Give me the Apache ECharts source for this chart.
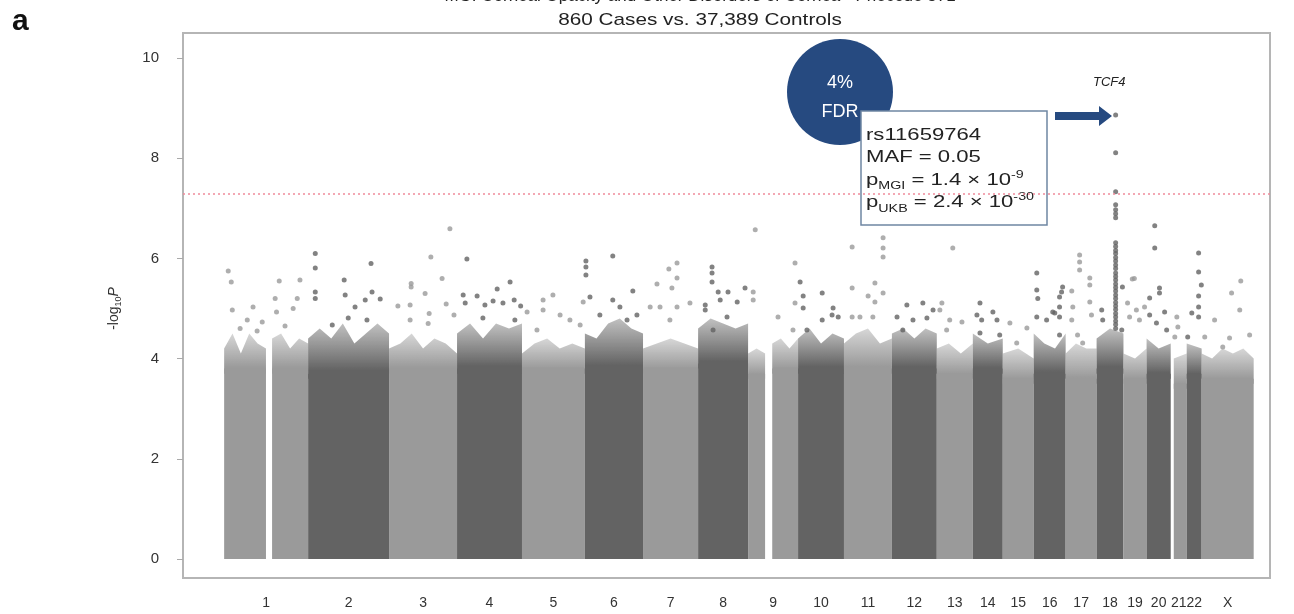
<!DOCTYPE html>
<html>
<head>
<meta charset="utf-8">
<script src="https://cdn.jsdelivr.net/npm/echarts@6/dist/echarts.min.js"></script>
<style>
  html, body { margin: 0; padding: 0; background: #fff; }
  #chart { width: 1294px; height: 614px; }
</style>
</head>
<body>
<div id="chart"></div>
<script>
var chrNames = ['1', '2', '3', '4', '5', '6', '7', '8', '9', '10', '11', '12',
  '13', '14', '15', '16', '17', '18', '19', '20', '21', '22', 'X'];
// plotted span of each chromosome (Mb)
var chrLen = [247, 238, 200, 191, 185, 171, 162, 147, 147, 135, 141, 132,
  106, 88, 91, 94, 91, 79, 68, 71, 47, 44, 153];

// dense SNP band: [chromosome, from Mb, to Mb, solid up to, top of the fuzzy edge along it]
var bands = [
  [1, 0, 123, 3.8, [4.2, 4.5, 4.1, 4.5, 4.3, 4.2]],
  [1, 141, 247, 3.8, [4.4, 4.5, 4.2, 4.4, 4.3]],
  [2, 0, 238, 3.7, [4.4, 4.6, 4.4, 4.7, 4.3, 4.5, 4.7, 4.5]],
  [3, 0, 200, 3.8, [4.2, 4.3, 4.5, 4.2, 4.4, 4.3, 4.1]],
  [4, 0, 191, 3.8, [4.5, 4.7, 4.4, 4.7, 4.6, 4.7]],
  [5, 0, 185, 3.8, [4.1, 4.3, 4.4, 4.2, 4.3, 4.2]],
  [6, 0, 171, 3.8, [4.5, 4.4, 4.7, 4.8, 4.6, 4.5]],
  [7, 0, 162, 3.8, [4.2, 4.3, 4.4, 4.3, 4.2]],
  [8, 0, 147, 3.9, [4.6, 4.8, 4.7, 4.6, 4.7]],
  [9, 0, 50, 3.7, [4.1, 4.2, 4.1]],
  [9, 71, 147, 3.8, [4.3, 4.4, 4.2, 4.4]],
  [10, 0, 135, 3.8, [4.4, 4.6, 4.3, 4.5, 4.4]],
  [11, 0, 141, 3.8, [4.3, 4.5, 4.6, 4.3, 4.4]],
  [12, 0, 132, 3.8, [4.5, 4.6, 4.4, 4.6, 4.5]],
  [13, 0, 106, 3.7, [4.2, 4.3, 4.1, 4.3]],
  [14, 0, 88, 3.8, [4.5, 4.3, 4.4]],
  [15, 0, 91, 3.6, [4.1, 4.2, 4.0]],
  [16, 0, 94, 3.7, [4.5, 4.3, 4.2, 4.5]],
  [17, 0, 91, 3.6, [4.1, 4.3, 4.2, 4.2]],
  [18, 0, 79, 3.8, [4.4, 4.6, 4.5]],
  [19, 0, 68, 3.6, [4.1, 4.0, 4.2]],
  [20, 0, 71, 3.7, [4.4, 4.2, 4.3]],
  [21, 9, 47, 3.5, [4.0, 4.1]],
  [22, 0, 44, 3.7, [4.3, 4.2]],
  [23, 0, 153, 3.6, [4.1, 4.0, 4.2, 4.1, 4.2, 4.0]]
];

// SNPs standing out above the band: [chromosome, Mb, -log10 P]
var hits = [
  [1, 12, 5.75], [1, 21, 5.53], [1, 24, 4.97], [1, 85, 5.03], [1, 68, 4.77], [1, 112, 4.73], [1, 47, 4.6], [1, 97, 4.55],
  [1, 162, 5.55], [1, 223, 5.57], [1, 150, 5.2], [1, 215, 5.2], [1, 203, 5.0], [1, 154, 4.93], [1, 179, 4.65],
  [2, 21, 6.1], [2, 21, 5.81], [2, 21, 5.33], [2, 21, 5.2], [2, 106, 5.57], [2, 185, 5.9], [2, 109, 5.27], [2, 168, 5.17],
  [2, 212, 5.19], [2, 188, 5.33], [2, 138, 5.03], [2, 118, 4.81], [2, 173, 4.77], [2, 71, 4.67],
  [3, 179, 6.59], [3, 123, 6.03], [3, 65, 5.5], [3, 65, 5.43], [3, 156, 5.6], [3, 106, 5.3], [3, 62, 5.07], [3, 118, 4.9],
  [3, 26, 5.05], [3, 168, 5.09], [3, 191, 4.87], [3, 115, 4.7], [3, 62, 4.77],
  [4, 29, 5.99], [4, 18, 5.27], [4, 59, 5.25], [4, 24, 5.11], [4, 156, 5.53], [4, 118, 5.39], [4, 82, 5.07], [4, 168, 5.17],
  [4, 135, 5.11], [4, 106, 5.15], [4, 187, 5.05], [4, 76, 4.81], [4, 170, 4.77],
  [5, 91, 5.27], [5, 62, 5.17], [5, 62, 4.97], [5, 15, 4.93], [5, 112, 4.87], [5, 141, 4.77], [5, 171, 4.67], [5, 44, 4.57], [5, 180, 5.13],
  [6, 82, 6.05], [6, 3, 5.95], [6, 3, 5.83], [6, 3, 5.67], [6, 15, 5.23], [6, 141, 5.35], [6, 82, 5.17], [6, 103, 5.03],
  [6, 153, 4.87], [6, 124, 4.77], [6, 44, 4.87],
  [7, 100, 5.91], [7, 76, 5.79], [7, 100, 5.61], [7, 85, 5.41], [7, 41, 5.49], [7, 138, 5.11], [7, 50, 5.03], [7, 100, 5.03],
  [7, 79, 4.77], [7, 21, 5.03],
  [8, 41, 5.83], [8, 41, 5.71], [8, 41, 5.53], [8, 59, 5.33], [8, 88, 5.33], [8, 115, 5.13], [8, 138, 5.41], [8, 65, 5.17],
  [8, 21, 5.07], [8, 21, 4.97], [8, 85, 4.83], [8, 44, 4.57],
  [9, 21, 6.57], [9, 15, 5.33], [9, 15, 5.17], [9, 138, 5.91], [9, 138, 5.11], [9, 88, 4.83], [9, 132, 4.57],
  [10, 6, 5.53], [10, 15, 5.25], [10, 71, 5.31], [10, 15, 5.01], [10, 103, 5.01], [10, 118, 4.83], [10, 71, 4.77], [10, 26, 4.57], [10, 100, 4.87],
  [11, 24, 6.23], [11, 115, 6.41], [11, 115, 6.21], [11, 115, 6.03], [11, 24, 5.41], [11, 91, 5.51], [11, 71, 5.25], [11, 115, 5.31],
  [11, 91, 5.13], [11, 24, 4.83], [11, 47, 4.83], [11, 85, 4.83],
  [12, 44, 5.07], [12, 91, 5.11], [12, 15, 4.83], [12, 62, 4.77], [12, 103, 4.81], [12, 121, 4.97], [12, 32, 4.57],
  [13, 47, 6.21], [13, 15, 5.11], [13, 9, 4.97], [13, 38, 4.77], [13, 74, 4.73], [13, 29, 4.57],
  [14, 21, 5.11], [14, 12, 4.87], [14, 26, 4.77], [14, 59, 4.93], [14, 71, 4.77], [14, 79, 4.47], [14, 21, 4.51],
  [15, 21, 4.71], [15, 71, 4.61], [15, 41, 4.31],
  [16, 9, 5.71], [16, 9, 5.37], [16, 12, 5.2], [16, 9, 4.83], [16, 85, 5.43], [16, 82, 5.33], [16, 76, 5.23], [16, 76, 5.03],
  [16, 56, 4.93], [16, 76, 4.83], [16, 76, 4.47], [16, 62, 4.91], [16, 38, 4.77],
  [17, 41, 6.07], [17, 41, 5.93], [17, 41, 5.77], [17, 71, 5.61], [17, 71, 5.47], [17, 18, 5.35], [17, 21, 5.03], [17, 71, 5.13],
  [17, 76, 4.87], [17, 18, 4.77], [17, 35, 4.47], [17, 50, 4.31],
  [18, 15, 4.97], [18, 76, 5.43], [18, 18, 4.77], [18, 74, 4.57],
  [19, 26, 5.59], [19, 32, 5.6], [19, 12, 5.11], [19, 38, 4.97], [19, 62, 5.03], [19, 18, 4.83], [19, 47, 4.77],
  [20, 24, 6.65], [20, 24, 6.21], [20, 9, 5.21], [20, 38, 5.41], [20, 38, 5.31], [20, 53, 4.93], [20, 9, 4.87], [20, 29, 4.71], [20, 59, 4.57],
  [21, 18, 4.83], [21, 21, 4.63], [21, 12, 4.43],
  [22, 35, 6.11], [22, 35, 5.73], [22, 35, 5.25], [22, 35, 5.03], [22, 35, 4.83], [22, 43, 5.47], [22, 15, 4.91], [22, 3, 4.43],
  [23, 115, 5.55], [23, 88, 5.31], [23, 112, 4.97], [23, 38, 4.77], [23, 141, 4.47], [23, 82, 4.41], [23, 9, 4.43], [23, 62, 4.23]
];

// TCF4 peak on chromosome 18
var tcf4Chr = 18;
var tcf4Pos = 56;
var tcf4Column = [8.86, 8.11, 7.33, 7.07, 6.97, 6.89, 6.81, 6.31, 6.24, 6.16, 6.1, 6.02, 5.95, 5.87, 5.8, 5.71,
  5.64, 5.57, 5.49, 5.42, 5.35, 5.27, 5.2, 5.12, 5.05, 4.98, 4.9, 4.83, 4.75, 4.68, 4.6];

var gwsLine = 7.3;
var yTicks = [0, 2, 4, 6, 8, 10];

var light = [154, 154, 154];
var dark = [99, 99, 99];
var navy = '#264a80';
var font = 'Liberation Sans, Arial, sans-serif';

// cumulative start of each chromosome
var chrStart = [];
var acc = 0;
for (var i = 0; i < chrLen.length; i++) {
  chrStart.push(acc);
  acc += chrLen[i];
}
var chrMid = chrStart.map(function (s, i) { return s + chrLen[i] / 2; });

function rgba(chr, a) {
  var c = chr % 2 === 1 ? light : dark;
  return 'rgba(' + c[0] + ',' + c[1] + ',' + c[2] + ',' + a + ')';
}

var bandData = bands.map(function (b) {
  var s = chrStart[b[0] - 1];
  return [s + b[1], s + b[2]];
});

var pointData = hits.map(function (h) {
  return [chrStart[h[0] - 1] + h[1], h[2], h[0]];
});
tcf4Column.forEach(function (v) {
  pointData.push([chrStart[tcf4Chr - 1] + tcf4Pos, v, tcf4Chr]);
});

var myChart = echarts.init(document.getElementById('chart'));

var option = {
  animation: false,
  grid: {
    left: 183,
    right: 24,
    top: 58,
    bottom: 55
  },
  xAxis: {
    type: 'value',
    min: -121,
    max: 3076,
    axisLine: { show: false },
    axisTick: { show: false },
    splitLine: { show: false },
    axisLabel: {
      customValues: chrMid,
      margin: 37,
      fontSize: 14,
      color: '#333',
      fontFamily: font,
      formatter: function (val) {
        for (var k = 0; k < chrMid.length; k++) {
          if (Math.abs(chrMid[k] - val) < 0.01) return chrNames[k];
        }
        return '';
      }
    }
  },
  yAxis: {
    type: 'value',
    min: 0,
    max: 10,
    interval: 2,
    name: '{n|-log}{s|10}{i|P}',
    nameLocation: 'middle',
    nameRotate: 90,
    nameGap: 60,
    nameTextStyle: {
      rich: {
        n: { fontSize: 14, color: '#333', fontFamily: font, lineHeight: 18 },
        s: { fontSize: 9, color: '#333', fontFamily: font, verticalAlign: 'bottom', lineHeight: 18 },
        i: { fontSize: 14, color: '#333', fontFamily: font, fontStyle: 'italic', lineHeight: 18 }
      }
    },
    axisLine: { show: false, onZero: false },
    axisTick: { show: true, length: 6, lineStyle: { color: '#aaa' } },
    splitLine: { show: false },
    axisLabel: {
      margin: 24,
      fontSize: 15,
      color: '#333',
      fontFamily: font,
      customValues: yTicks
    }
  },
  series: [
    {
      type: 'custom',
      data: bandData,
      encode: { x: [0, 1] },
      clip: true,
      renderItem: function (params, api) {
        var b = bands[params.dataIndex];
        var s = chrStart[b[0] - 1];
        var x0 = s + b[1];
        var x1 = s + b[2];
        var tops = b[4];
        // fuzzy edge starts a little inside the solid part so no seam shows
        var pts = [api.coord([x0, b[3] - 0.1])];
        for (var k = 0; k < tops.length; k++) {
          pts.push(api.coord([x0 + (x1 - x0) * k / (tops.length - 1), tops[k]]));
        }
        pts.push(api.coord([x1, b[3] - 0.1]));
        var bl = api.coord([x0, 0]);
        var tr = api.coord([x1, b[3]]);
        return {
          type: 'group',
          children: [
            {
              type: 'rect',
              shape: { x: bl[0], y: tr[1], width: tr[0] - bl[0], height: bl[1] - tr[1] },
              style: { fill: rgba(b[0], 1) }
            },
            {
              type: 'polygon',
              shape: { points: pts },
              style: {
                fill: new echarts.graphic.LinearGradient(0, 0, 0, 1, [
                  { offset: 0, color: rgba(b[0], 0.4) },
                  { offset: 0.85, color: rgba(b[0], 1) },
                  { offset: 1, color: rgba(b[0], 1) }
                ])
              }
            }
          ]
        };
      }
    },
    {
      type: 'scatter',
      data: pointData,
      symbolSize: 5,
      itemStyle: {
        color: function (p) { return rgba(p.data[2], 1); }
      },
      markLine: {
        silent: true,
        symbol: 'none',
        label: { show: false },
        lineStyle: { color: '#f08a9a', type: [2, 3], width: 1.5 },
        data: [{ yAxis: gwsLine }]
      }
    }
  ],
  graphic: [
    {
      type: 'rect',
      shape: { x: 183, y: 33, width: 1087, height: 545 },
      style: { fill: null, stroke: '#b5b5b5', lineWidth: 2 },
      silent: true
    },
    {
      type: 'text', x: 12, y: 7,
      style: { text: 'a', font: 'bold 30px ' + font, fill: '#111' }
    },
    {
      type: 'text', x: 700, y: -12,
      style: {
        text: 'MGI Corneal Opacity and Other Disorders of Cornea - Phecode 371',
        font: '17px ' + font, fill: '#222', align: 'center'
      }
    },
    {
      type: 'text', x: 700, y: 12, scaleX: 1.22, originX: 0,
      style: { text: '860 Cases vs. 37,389 Controls', font: '17px ' + font, fill: '#222', align: 'center' }
    },
    {
      type: 'circle',
      shape: { cx: 840, cy: 92, r: 53 },
      style: { fill: navy }
    },
    {
      type: 'text', x: 840, y: 74,
      style: { text: '4%', font: '18px ' + font, fill: '#fff', align: 'center' }
    },
    {
      type: 'text', x: 840, y: 103,
      style: { text: 'FDR', font: '18px ' + font, fill: '#fff', align: 'center' }
    },
    {
      type: 'rect',
      shape: { x: 861, y: 111, width: 186, height: 114 },
      style: { fill: '#fff', stroke: '#6f86a3', lineWidth: 1.5 }
    },
    {
      type: 'text', x: 866, y: 124, scaleX: 1.3,
      style: {
        text: 'rs11659764\nMAF = 0.05\n{p|p}{s|MGI}{p| = 1.4 × 10}{u|-9}\n{p|p}{s|UKB}{p| = 2.4 × 10}{u|-30}',
        font: '17px ' + font,
        fill: '#222',
        lineHeight: 22.5,
        rich: {
          p: { fontSize: 17, fontFamily: font, fill: '#222', lineHeight: 22.5 },
          s: { fontSize: 11, fontFamily: font, fill: '#222', verticalAlign: 'bottom', lineHeight: 22.5 },
          u: { fontSize: 11, fontFamily: font, fill: '#222', verticalAlign: 'top', lineHeight: 22.5 }
        }
      }
    },
    {
      type: 'polygon',
      shape: {
        points: [[1055, 112], [1099, 112], [1099, 106], [1112, 116], [1099, 126], [1099, 120], [1055, 120]]
      },
      style: { fill: navy }
    },
    {
      type: 'text', x: 1093, y: 76,
      style: { text: 'TCF4', font: 'italic 13px ' + font, fill: '#222' }
    }
  ]
};

myChart.setOption(option);
</script>
</body>
</html>
